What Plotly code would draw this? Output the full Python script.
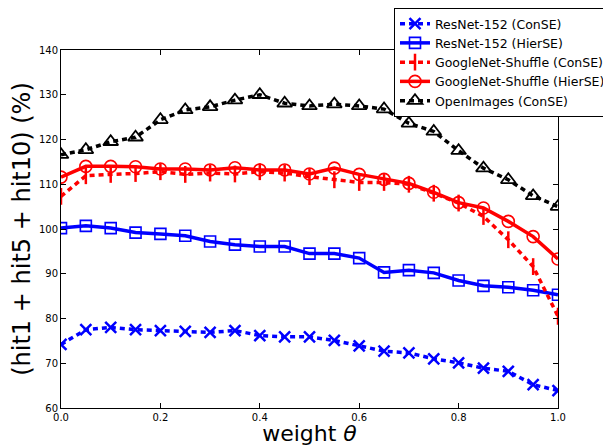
import plotly.graph_objects as go

theta = [0.0, 0.05, 0.1, 0.15, 0.2, 0.25, 0.3, 0.35, 0.4, 0.45, 0.5,
         0.55, 0.6, 0.65, 0.7, 0.75, 0.8, 0.85, 0.9, 0.95, 1.0]

resnet_conse = [74.2, 77.5, 78.0, 77.5, 77.3, 77.1, 76.9, 77.3, 76.2, 75.9, 75.9,
                75.1, 73.9, 72.7, 72.3, 71.0, 70.1, 68.9, 68.2, 65.2, 63.9]
resnet_hierse = [100.2, 100.7, 100.2, 99.2, 98.9, 98.5, 97.2, 96.5, 96.1, 96.1, 94.5,
                 94.5, 93.5, 90.3, 90.8, 90.2, 88.5, 87.3, 87.0, 86.3, 85.3]
googlenet_conse = [107.3, 111.9, 112.2, 112.4, 112.8, 112.2, 112.5, 112.3, 112.8, 112.5, 111.7,
                   111.0, 110.4, 110.4, 110.0, 108.0, 105.8, 102.8, 97.6, 91.6, 80.5]
googlenet_hierse = [111.6, 114.0, 114.0, 113.9, 113.4, 113.4, 113.2, 113.7, 113.2, 113.2, 112.3,
                    113.6, 112.2, 111.1, 110.2, 108.2, 105.9, 104.7, 101.7, 98.3, 93.3]
openimages_conse = [116.6, 117.7, 119.5, 120.5, 124.4, 126.6, 127.3, 128.8, 130.0, 128.1, 127.5,
                    127.9, 127.5, 126.8, 123.6, 121.8, 117.5, 113.6, 111.0, 107.4, 105.0]

series_names = ["ResNet-152 (ConSE)", "ResNet-152 (HierSE)", "GoogleNet-Shuffle (ConSE)",
                "GoogleNet-Shuffle (HierSE)", "OpenImages (ConSE)"]

x_ticks = [0.0, 0.2, 0.4, 0.6, 0.8, 1.0]
x_tick_labels = ["0.0", "0.2", "0.4", "0.6", "0.8", "1.0"]
y_ticks = [60, 70, 80, 90, 100, 110, 120, 130, 140]

DASH = "5px,4px"
styles = [
    dict(y=resnet_conse, color="#0000ff", dash=DASH, symbol="x-thin-open", size=11, mlw=2.5),
    dict(y=resnet_hierse, color="#0000ff", dash="solid", symbol="square-open", size=11, mlw=1.6),
    dict(y=googlenet_conse, color="#ff0000", dash=DASH, symbol="line-ns-open", size=12, mlw=2.5),
    dict(y=googlenet_hierse, color="#ff0000", dash="solid", symbol="circle-open", size=12, mlw=1.6),
    dict(y=openimages_conse, color="#000000", dash=DASH, symbol="triangle-up-open", size=13, mlw=1.8),
]

fig = go.Figure()
for name, s in zip(series_names, styles):
    fig.add_trace(go.Scatter(
        x=theta, y=s["y"], name=name, mode="lines+markers",
        line=dict(color=s["color"], width=3.5, dash=s["dash"]),
        marker=dict(symbol=s["symbol"], size=s["size"], color=s["color"],
                    line=dict(color=s["color"], width=s["mlw"])),
    ))

axis_common = dict(
    showline=True, linecolor="black", linewidth=1, mirror="ticks",
    ticks="inside", ticklen=5, tickwidth=1, tickcolor="black",
    showgrid=False, zeroline=False,
    tickfont=dict(family="DejaVu Sans", size=10, color="black"),
)

# page body adds an 8px offset, so the figure is sized to the visible area
W, H = 603, 438
L, R, T, B = 53, 53, 42, 38
plot_w = W - L - R
plot_h = H - T - B

fig.update_layout(
    width=W, height=H,
    margin=dict(l=L, r=R, t=T, b=B, autoexpand=False),
    paper_bgcolor="white", plot_bgcolor="white",
    font=dict(family="DejaVu Sans", color="black"),
    xaxis=dict(range=[0, 1], tickvals=x_ticks, ticktext=x_tick_labels,
               title=dict(text="weight <i>θ</i>", font=dict(size=22), standoff=13),
               automargin=False, **axis_common),
    yaxis=dict(range=[60, 140], tickvals=y_ticks,
               title=dict(text="(hit1 + hit5 + hit10) (%)", font=dict(size=24), standoff=6),
               automargin=False, **axis_common),
    legend=dict(x=(386 - L) / plot_w, y=(H - B) / plot_h, xanchor="left", yanchor="top",
                bgcolor="white", bordercolor="black", borderwidth=1,
                font=dict(family="DejaVu Sans", size=12.5, color="black"),
                tracegroupgap=0, itemwidth=30),
    showlegend=True,
)

fig.write_html("out.html")
